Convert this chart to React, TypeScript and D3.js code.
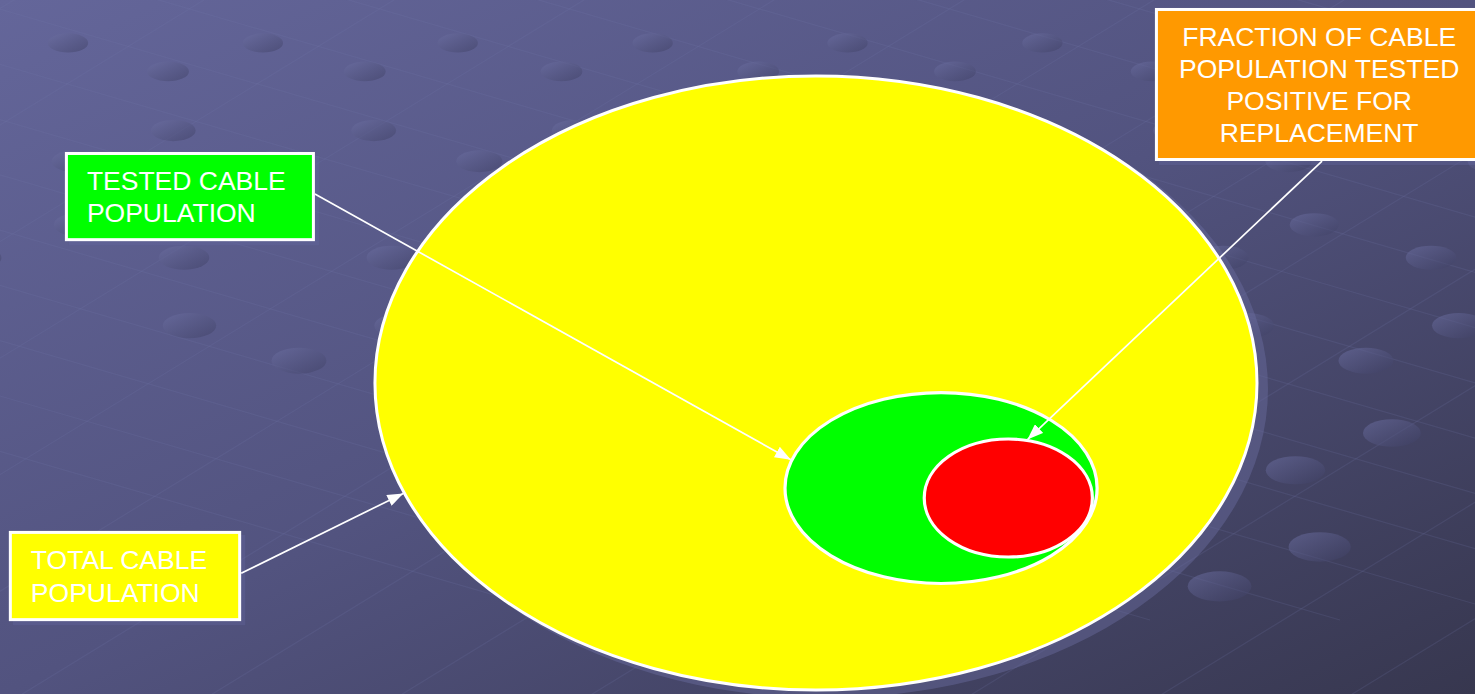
import React from "react";
import * as d3 from "d3";

const W = 1475;
const H = 694;

// Nested populations, in slide-percent units (x: 0–100 of width, y: 0–100 of height)
const populations = ["TOTAL CABLE POPULATION", "TESTED CABLE POPULATION", "POSITIVE FOR REPLACEMENT"];
const centerX = [55.32, 63.8, 68.36];
const centerY = [55.19, 70.32, 71.76];
const radiusX = [29.9, 10.58, 5.7];
const radiusY = [44.24, 13.76, 8.5];
const fills = ["#ffff00", "#00ff00", "#ff0000"];

// Callout labels, one per population
const labelLines = [
  ["TOTAL CABLE", "POPULATION"],
  ["TESTED CABLE", "POPULATION"],
  ["FRACTION OF CABLE", "POPULATION TESTED", "POSITIVE FOR", "REPLACEMENT"],
];
const labelFills = ["#ffff00", "#00ff00", "#ff9900"];
// Callout box extents in slide-percent units [x0, y0, x1, y1]
const labelBoxes = [
  [0.6, 76.5, 16.35, 89.5],
  [4.4, 21.9, 21.35, 34.75],
  [78.3, 1.15, 100.3, 23.2],
];
const labelAlign = ["start", "start", "middle"];
// Where each arrow meets its ellipse (angle in degrees, 0 = right, 90 = down)
const arrowAngle = [159, -163, -77];
// Arrow start on the callout box: which side
const arrowFrom = ["right", "right", "bottom"];

const x = d3.scaleLinear().domain([0, 100]).range([0, W]);
const y = d3.scaleLinear().domain([0, 100]).range([0, H]);
const rxS = d3.scaleLinear().domain([0, 100]).range([0, W]);
const ryS = d3.scaleLinear().domain([0, 100]).range([0, H]);

// Background lattice of faint nodes and links
function Lattice() {
  const nodes: { x: number; y: number; s: number }[] = [];
  const u = [97, 27];
  const v = [95, -27];
  for (let i = -12; i <= 14; i++) {
    for (let j = -4; j <= 22; j++) {
      const px = -30 + i * u[0] + j * v[0];
      const py = 15 + i * u[1] + j * v[1];
      const s = 1 + Math.max(0, py) / 700;
      const ppx = px * (1 + (py / 700) * 0.25);
      const ppy = py * (1 + (py / 700) * 0.35);
      if (ppx > -60 && ppx < W + 60 && ppy > -40 && ppy < H + 40 && (i + 2 * j) % 3 !== 0) {
        nodes.push({ x: ppx, y: ppy, s });
      }
    }
  }
  const links: [number, number, number, number][] = [];
  for (let k = -8; k < 16; k++) {
    const x0 = -100 + k * 190;
    links.push([x0, -20, x0 + 2200, 620]);
    links.push([x0 - 300, 720, x0 + 1200, -200]);
  }
  return (
    <g>
      {links.map((l, i) => (
        <line key={i} x1={l[0]} y1={l[1]} x2={l[2]} y2={l[3]} stroke="#7678aa" strokeOpacity={0.18} strokeWidth={1.2} />
      ))}
      {nodes.map((n, i) => (
        <ellipse key={i} cx={n.x} cy={n.y} rx={19 * n.s} ry={9 * n.s} fill="url(#node)" />
      ))}
    </g>
  );
}

export default function App() {
  const pts = populations.map((_, i) => ({
    cx: x(centerX[i]),
    cy: y(centerY[i]),
    rx: rxS(radiusX[i]),
    ry: ryS(radiusY[i]),
  }));

  const fontSize = 26.5;
  const lineGap = 32.3;

  return (
    <svg
      width={W}
      height={H}
      style={{ position: "fixed", left: 0, top: 0, display: "block" }}
      fontFamily="'Liberation Sans', Arial, sans-serif"
    >
      <defs>
        <linearGradient id="bg" x1="0" y1="0" x2="1" y2="1">
          <stop offset="0" stopColor="#64669a" />
          <stop offset="0.5" stopColor="#52537f" />
          <stop offset="1" stopColor="#37374f" />
        </linearGradient>
        <linearGradient id="node" x1="0" y1="0" x2="1" y2="1">
          <stop offset="0" stopColor="#6f72a6" stopOpacity={0.55} />
          <stop offset="1" stopColor="#3c3d60" stopOpacity={0.5} />
        </linearGradient>
        <marker id="head" viewBox="0 0 16 12" refX="16" refY="6" markerWidth="16" markerHeight="12" markerUnits="userSpaceOnUse" orient="auto">
          <path d="M0,0 L16,6 L0,12 Z" fill="#ffffff" />
        </marker>
      </defs>
      <rect width={W} height={H} fill="url(#bg)" />
      <Lattice />

      {/* populations: largest first so the subsets sit on top */}
      <ellipse cx={pts[0].cx + 9} cy={pts[0].cy + 6} rx={pts[0].rx + 2} ry={pts[0].ry + 2} fill="#6a6ca0" fillOpacity={0.45} />
      {pts.map((p, i) => (
        <ellipse key={populations[i]} cx={p.cx} cy={p.cy} rx={p.rx} ry={p.ry} fill={fills[i]} stroke="#ffffff" strokeWidth={i === 0 ? 3 : 3.2} />
      ))}

      {/* callouts */}
      {labelLines.map((lines, i) => {
        const [a, b, c, d] = labelBoxes[i];
        const x0 = x(a), y0 = y(b), x1 = x(c), y1 = y(d);
        const p = pts[i];
        const t = (arrowAngle[i] * Math.PI) / 180;
        const tx = p.cx + (p.rx + 1) * Math.cos(t);
        const ty = p.cy + (p.ry + 1) * Math.sin(t);
        const sx = arrowFrom[i] === "right" ? x1 : x0 + (x1 - x0) * 0.515;
        const sy = arrowFrom[i] === "right" ? y0 + (y1 - y0) * 0.47 : y1;
        const tyMid = (y0 + y1) / 2;
        const first = tyMid - ((lines.length - 1) * lineGap) / 2 + fontSize * 0.36;
        const textX = labelAlign[i] === "middle" ? (x0 + x1 - 4) / 2 + 4 : x0 + 22;
        return (
          <g key={i}>
            <rect x={x0 + 4} y={y0 + 4} width={x1 - x0} height={y1 - y0} fill="#6466a0" fillOpacity={0.35} />
            <line x1={sx} y1={sy} x2={tx} y2={ty} stroke="#ffffff" strokeWidth={1.7} markerEnd="url(#head)" />
            <rect x={x0 + 1.5} y={y0 + 1.5} width={x1 - x0 - 3} height={y1 - y0 - 3} fill={labelFills[i]} stroke="#ffffff" strokeWidth={3} />
            {lines.map((ln, k) => (
              <text key={k} x={textX} y={first + k * lineGap} fill="#ffffff" fontSize={fontSize} textAnchor={labelAlign[i]}>
                {ln}
              </text>
            ))}
          </g>
        );
      })}
    </svg>
  );
}
